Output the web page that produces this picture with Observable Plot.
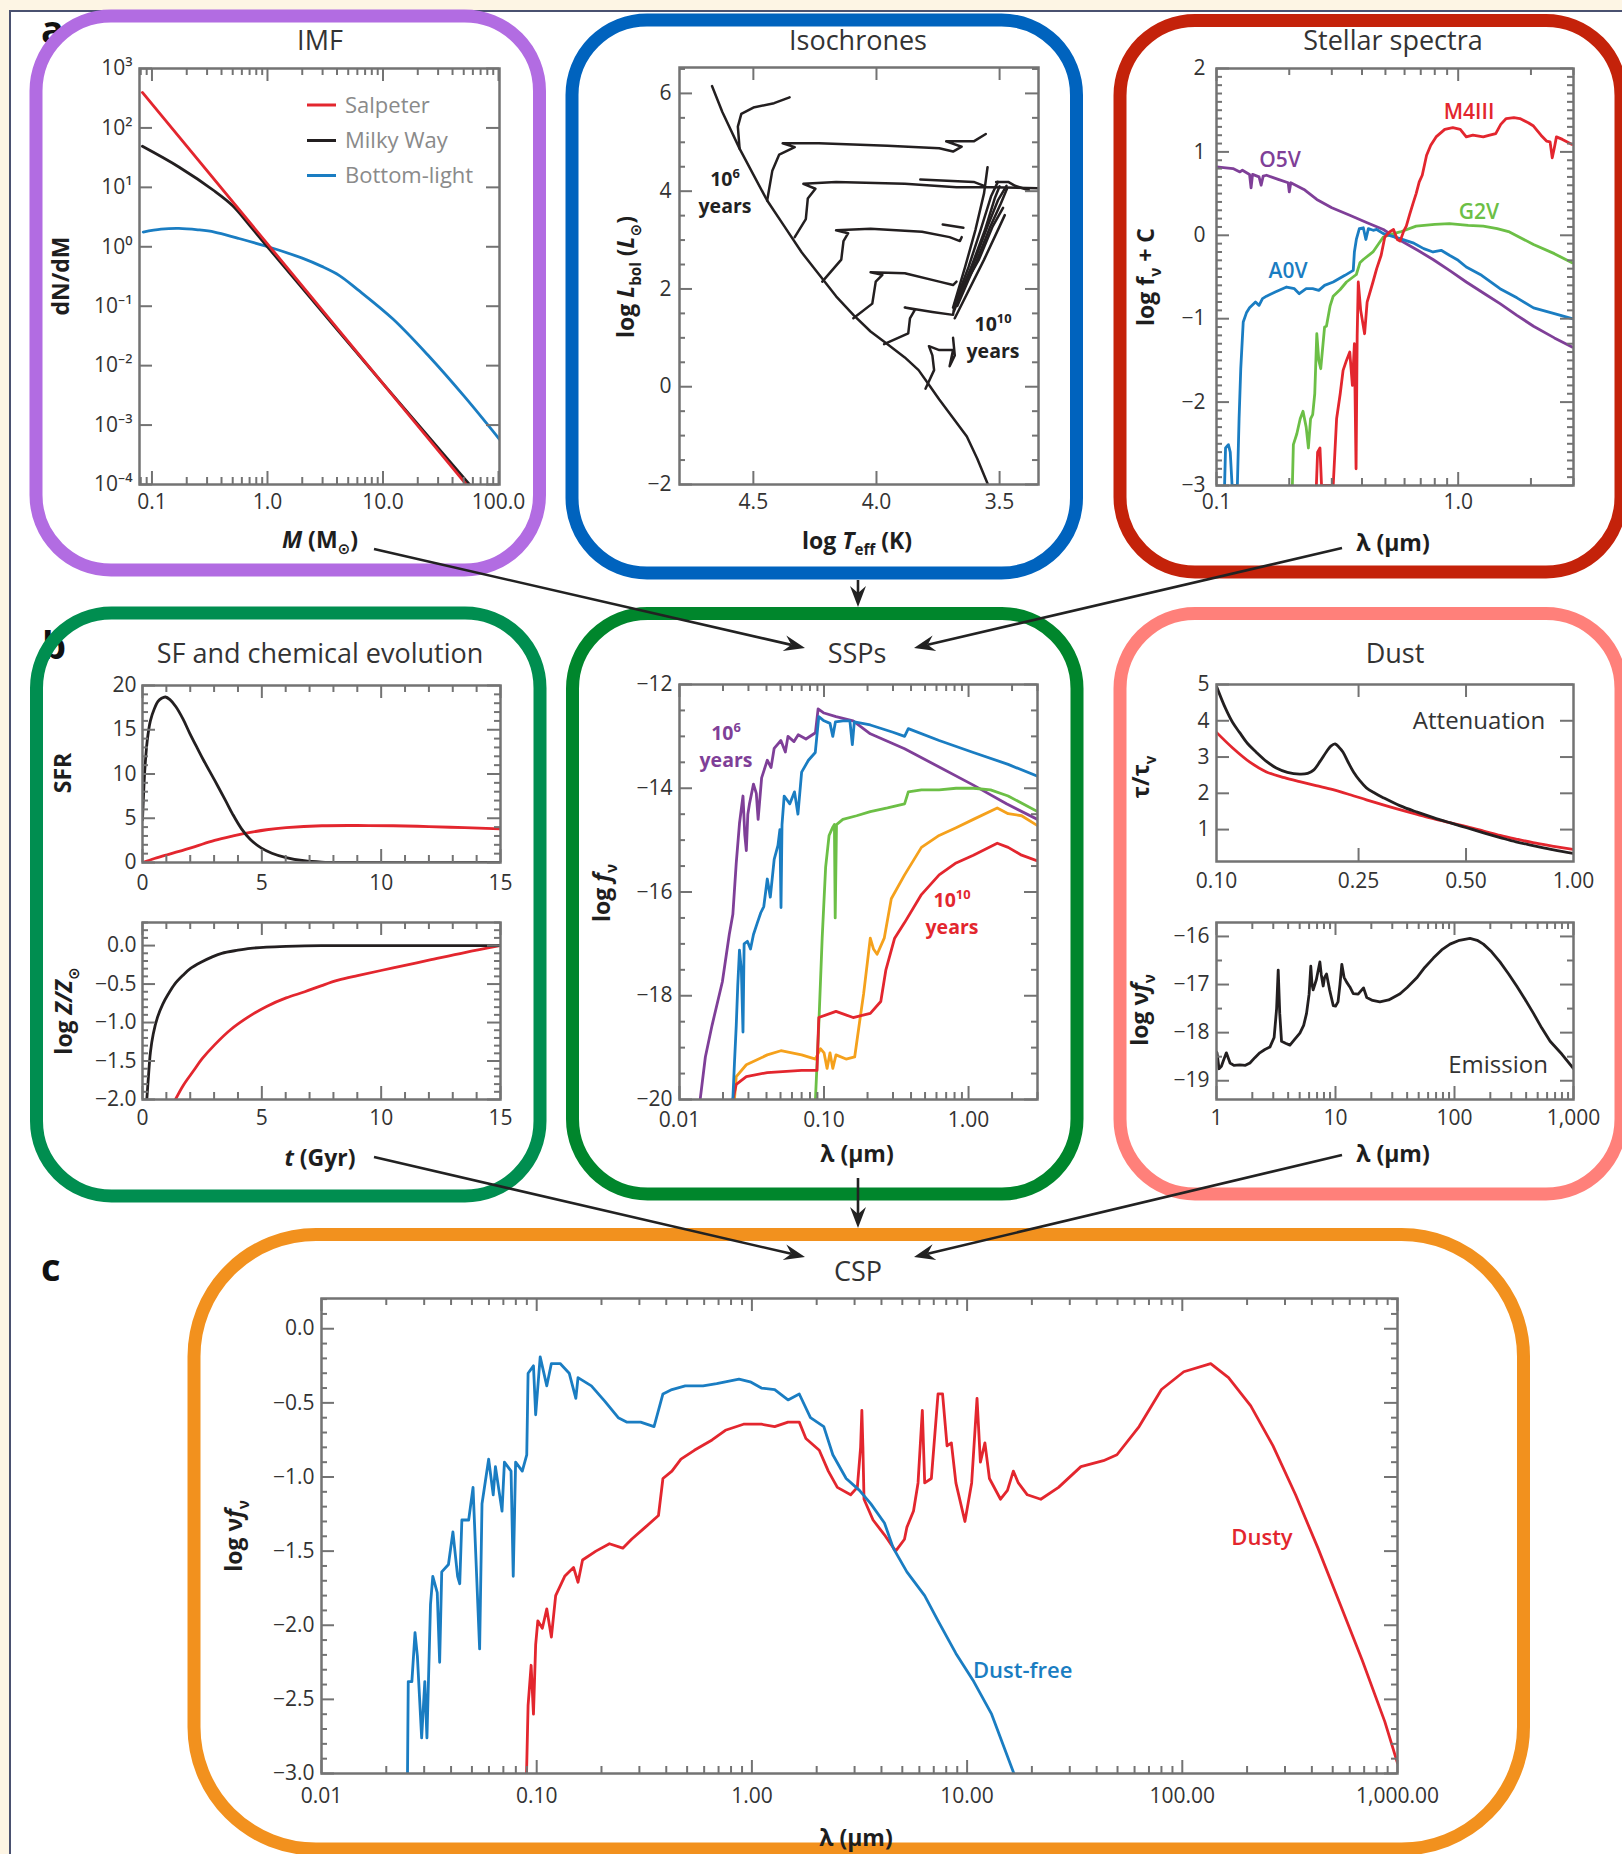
<!DOCTYPE html>
<html><head><meta charset="utf-8">
<script src="https://cdn.jsdelivr.net/npm/d3@7"></script>
<script src="https://cdn.jsdelivr.net/npm/@observablehq/plot@0.6"></script>
<style>
html,body{margin:0;padding:0;background:#fdf5e4;}
#root{position:relative;width:1622px;height:1854px;overflow:hidden;background:#fdf5e4;}
#paper{position:absolute;left:9px;top:10px;width:1613px;height:1844px;background:#fff;border-left:2px solid #4a5170;border-top:2px solid #4a5170;}
</style></head><body><div id="root"><div id="paper"></div></div>
<script>
// ---------------- DATA ----------------
// IMF: [M (Msun), dN/dM]
const imfSalpeter = [[0.0826, 395], [52.6, 1e-4]];
const imfMilkyWay = [[0.0826, 49], [0.171, 22], [0.35, 8.6], [0.5, 4.9], [0.7, 2.3], [1, 1], [10, 5.0e-3], [56, 1e-4]];
const imfBottomLight = [[0.084,1.77],[0.12,1.98],[0.171,2.04],[0.25,1.93],[0.348,1.77],[0.55,1.4],[1.01,1.0],[2.0,0.645],[2.95,0.468],[4.2,0.328],[6.0,0.192],[12.2,0.0608],[24.9,0.0145],[50.8,0.003],[102,5.75e-4]];
const imfXTicks = [0.1, 1, 10, 100];
const imfXLabels = ["0.1", "1.0", "10.0", "100.0"];
const imfYTicks = [1e3, 1e2, 1e1, 1e0, 1e-1, 1e-2, 1e-3, 1e-4];
const imfYLabels = ["10³", "10²", "10¹", "10⁰", "10⁻¹", "10⁻²", "10⁻³", "10⁻⁴"];
const imfLegend = ["Salpeter", "Milky Way", "Bottom-light"];

// Isochrones: [log Teff, log Lbol]
const isoMS = [[4.668,6.15],[4.626,5.62],[4.556,4.87],[4.5,4.34],[4.444,3.81],[4.374,3.28],[4.304,2.75],[4.234,2.30],[4.164,1.85],[4.094,1.47],[4.024,1.13],[3.955,0.87],[3.885,0.60],[3.829,0.34],[3.787,0.04],[3.745,-0.26],[3.689,-0.64],[3.633,-1.02],[3.591,-1.47],[3.549,-1.98]];
const iso1 = [[4.556,4.87],[4.563,5.32],[4.549,5.58],[4.5,5.71],[4.416,5.80],[4.353,5.92]];
const iso2 = [[4.444,3.81],[4.423,4.42],[4.395,4.75],[4.332,4.90],[4.381,4.98],[4.234,4.98],[3.955,4.93],[3.745,4.88],[3.689,4.81],[3.654,4.91],[3.717,5.02],[3.605,5.02],[3.556,5.17]];
const iso3 = [[4.332,3.06],[4.287,3.43],[4.279,3.85],[4.248,4.05],[4.297,4.15],[4.164,4.19],[3.885,4.15],[3.675,4.08],[3.535,4.08],[3.345,4.06]];
const iso3b = [[3.822,4.24],[3.605,4.19],[3.563,4.11]];
const iso4 = [[4.220,2.15],[4.143,2.60],[4.134,2.98],[4.115,3.14],[4.164,3.20],[4.024,3.23],[3.815,3.17],[3.703,3.06],[3.661,2.98],[3.654,3.06]];
const iso4b = [[3.731,3.32],[3.647,3.25]];
const iso5 = [[4.094,1.40],[4.017,1.70],[4.003,2.15],[3.976,2.29],[4.024,2.34],[3.885,2.32],[3.745,2.15],[3.689,2.08],[3.675,2.15]];
const iso6 = [[3.969,0.87],[3.871,1.09],[3.864,1.40],[3.843,1.58],[3.885,1.62],[3.773,1.53],[3.689,1.47],[3.682,1.70]];
const iso7 = [[3.801,-0.04],[3.766,0.34],[3.773,0.64],[3.787,0.83],[3.745,0.75],[3.689,0.75],[3.703,0.42],[3.682,0.64],[3.689,1.0]];
const rgb1 = [[3.689,1.62],[3.640,2.45],[3.598,3.21],[3.563,3.96],[3.549,4.49]];
const rgb2 = [[3.682,1.70],[3.626,2.45],[3.577,3.21],[3.535,3.89],[3.507,4.19]];
const rgb3 = [[3.675,1.77],[3.605,2.53],[3.549,3.28],[3.507,3.81],[3.472,4.11]];
const rgb4 = [[3.668,1.85],[3.584,2.60],[3.528,3.28],[3.486,3.66]];
const rgb5 = [[3.682,1.40],[3.563,2.60],[3.500,3.28],[3.479,3.51]];
const rgb6 = [[3.685,1.55],[3.615,2.45],[3.560,3.20],[3.520,3.85],[3.500,4.10]];
const rgb7 = [[3.672,1.65],[3.595,2.55],[3.540,3.25],[3.495,3.75],[3.470,4.05]];
const rgbTop = [[3.514,4.19],[3.465,4.19],[3.437,4.11],[3.381,4.02]];
const isoXTicks = [4.5, 4.0, 3.5];
const isoXLabels = ["4.5", "4.0", "3.5"];
const isoYTicks = [-2, 0, 2, 4, 6];
const isoYLabels = ["−2", "0", "2", "4", "6"];

// Stellar spectra: [lambda (um), log f_nu + C]
const specO5V = [[0.1,0.82],[0.117,0.80],[0.125,0.76],[0.128,0.78],[0.137,0.73],[0.139,0.57],[0.141,0.73],[0.150,0.70],[0.153,0.60],[0.156,0.71],[0.161,0.72],[0.180,0.67],[0.198,0.63],[0.200,0.52],[0.203,0.63],[0.230,0.55],[0.260,0.43],[0.300,0.33],[0.356,0.24],[0.420,0.15],[0.490,0.07],[0.575,-0.06],[0.680,-0.18],[0.787,-0.29],[0.93,-0.43],[1.08,-0.56],[1.30,-0.71],[1.49,-0.82],[1.75,-0.96],[2.05,-1.09],[2.50,-1.23],[2.96,-1.34]];
const specA0V = [[0.108,-3.0],[0.109,-2.55],[0.112,-2.51],[0.114,-2.6],[0.116,-3.0],[0.122,-3.0],[0.124,-2.2],[0.126,-1.6],[0.129,-1.04],[0.133,-0.93],[0.137,-0.87],[0.145,-0.80],[0.150,-0.84],[0.155,-0.76],[0.161,-0.73],[0.175,-0.68],[0.195,-0.62],[0.210,-0.64],[0.220,-0.70],[0.235,-0.64],[0.250,-0.64],[0.265,-0.66],[0.280,-0.60],[0.304,-0.56],[0.340,-0.48],[0.368,-0.42],[0.372,-0.2],[0.379,-0.05],[0.390,0.08],[0.405,0.09],[0.415,-0.05],[0.425,0.08],[0.445,0.06],[0.46,0.07],[0.49,0.02],[0.575,-0.04],[0.65,-0.09],[0.72,-0.16],[0.787,-0.2],[0.85,-0.18],[0.92,-0.24],[1.0,-0.30],[1.08,-0.38],[1.25,-0.48],[1.49,-0.64],[1.75,-0.75],[2.05,-0.87],[2.5,-0.94],[2.96,-1.0]];
const specG2V = [[0.206,-3.0],[0.208,-2.51],[0.215,-2.38],[0.222,-2.2],[0.228,-2.11],[0.235,-2.3],[0.24,-2.55],[0.245,-2.2],[0.25,-2.15],[0.255,-1.9],[0.26,-1.18],[0.265,-1.5],[0.27,-1.6],[0.28,-1.1],[0.285,-1.09],[0.295,-0.85],[0.304,-0.73],[0.325,-0.65],[0.345,-0.56],[0.379,-0.47],[0.392,-0.33],[0.405,-0.29],[0.444,-0.2],[0.49,-0.02],[0.54,0.02],[0.575,0.04],[0.67,0.11],[0.8,0.13],[0.92,0.14],[1.1,0.12],[1.27,0.11],[1.45,0.08],[1.63,0.04],[2.05,-0.11],[2.5,-0.22],[2.96,-0.33]];
const specM4III = [[0.259,-3.0],[0.262,-2.6],[0.268,-2.55],[0.272,-3.0],[0.304,-3.0],[0.314,-2.2],[0.325,-1.9],[0.334,-1.62],[0.345,-1.5],[0.356,-1.4],[0.365,-1.8],[0.372,-1.3],[0.378,-2.8],[0.382,-1.2],[0.386,-0.56],[0.395,-0.9],[0.41,-1.18],[0.42,-0.8],[0.444,-0.56],[0.46,-0.4],[0.48,-0.24],[0.497,-0.02],[0.52,0.04],[0.54,0.07],[0.56,-0.05],[0.575,-0.07],[0.595,0.05],[0.61,0.11],[0.63,0.25],[0.65,0.38],[0.67,0.5],[0.69,0.64],[0.71,0.72],[0.74,0.96],[0.77,1.08],[0.81,1.18],[0.88,1.27],[0.95,1.29],[1.02,1.27],[1.08,1.18],[1.15,1.2],[1.27,1.18],[1.35,1.2],[1.43,1.22],[1.5,1.33],[1.58,1.4],[1.7,1.41],[1.8,1.4],[1.95,1.35],[2.05,1.31],[2.2,1.2],[2.32,1.13],[2.4,1.12],[2.45,0.93],[2.5,1.05],[2.55,1.18],[2.7,1.15],[2.96,1.09]];
const specXTicks = [0.1, 1];
const specXLabels = ["0.1", "1.0"];
const specYTicks = [-3, -2, -1, 0, 1, 2];
const specYLabels = ["−3", "−2", "−1", "0", "1", "2"];
const specNames = ["O5V", "A0V", "G2V", "M4III"];

// SF history: [t (Gyr), SFR] and chemical evolution [t, log Z/Zsun]
const sfrBurst = [[0,4.8],[0.05,8],[0.1,10.6],[0.2,13.8],[0.33,16],[0.5,17.4],[0.65,18.2],[0.8,18.55],[0.96,18.7],[1.15,18.4],[1.4,17.6],[1.7,16.2],[1.98,14.6],[2.3,12.9],[2.57,11.5],[3.02,9.3],[3.47,7.05],[3.77,5.5],[4.15,3.8],[4.52,2.6],[4.97,1.65],[5.42,1.05],[6.02,0.55],[6.77,0.2],[7.51,0.05],[8.5,0],[15,0]];
const sfrSmooth = [[0,0],[0.5,0.45],[1.0,0.85],[1.53,1.25],[2.2,1.8],[3.02,2.5],[3.8,3.0],[4.52,3.4],[5.2,3.7],[6.02,3.93],[7.52,4.15],[9.01,4.18],[10.5,4.15],[12.0,4.06],[13.5,3.93],[15,3.8]];
const zBurst = [[0.18,-2.0],[0.25,-1.7],[0.33,-1.39],[0.45,-1.15],[0.63,-0.93],[0.85,-0.76],[1.08,-0.63],[1.35,-0.5],[1.68,-0.39],[2.0,-0.3],[2.43,-0.22],[2.9,-0.15],[3.32,-0.1],[4.0,-0.06],[4.52,-0.036],[5.2,-0.02],[6.02,-0.01],[7.5,0],[9,0],[15,0]];
const zSmooth = [[1.38,-2.0],[1.7,-1.82],[2.13,-1.63],[2.5,-1.47],[3.02,-1.29],[3.7,-1.09],[4.52,-0.91],[5.2,-0.79],[6.02,-0.68],[6.8,-0.6],[7.51,-0.52],[8.2,-0.45],[9.01,-0.39],[10.5,-0.29],[12.0,-0.19],[13.5,-0.09],[15,0]];
const tTicks = [0, 5, 10, 15];
const tLabels = ["0", "5", "10", "15"];
const sfrYTicks = [0, 5, 10, 15, 20];
const sfrYLabels = ["0", "5", "10", "15", "20"];
const zYTicks = [-2, -1.5, -1, -0.5, 0];
const zYLabels = ["−2.0", "−1.5", "−1.0", "−0.5", "0.0"];

// SSPs: [lambda (um), log f_nu]
const ssp1e6 = [[0.0139,-20],[0.0151,-19.18],[0.0168,-18.57],[0.0198,-17.73],[0.0221,-16.82],[0.0234,-16.43],[0.0247,-15.44],[0.026,-14.68],[0.0275,-14.15],[0.0283,-14.9],[0.029,-15.2],[0.0297,-14.5],[0.0305,-14.3],[0.0325,-13.92],[0.034,-14.1],[0.035,-14.6],[0.037,-13.8],[0.0405,-13.46],[0.043,-13.6],[0.0452,-13.23],[0.0503,-13.08],[0.054,-13.3],[0.0563,-13.0],[0.062,-13.1],[0.0663,-12.97],[0.075,-13.05],[0.0872,-12.93],[0.091,-12.47],[0.1,-12.55],[0.121,-12.62],[0.159,-12.7],[0.209,-12.95],[0.361,-13.24],[0.626,-13.59],[1.08,-13.94],[1.83,-14.3],[3.0,-14.6]];
const sspBlue = [[0.0234,-20],[0.0240,-19.3],[0.0247,-18.57],[0.0253,-17.8],[0.026,-17.12],[0.0268,-17.5],[0.0275,-18.7],[0.028,-17.0],[0.0295,-16.95],[0.031,-17.1],[0.0325,-16.82],[0.0345,-16.6],[0.0365,-16.4],[0.0383,-16.28],[0.0405,-15.75],[0.0425,-16.1],[0.0452,-15.37],[0.048,-15.1],[0.0495,-14.8],[0.0504,-16.3],[0.0512,-14.7],[0.053,-14.15],[0.058,-14.3],[0.0625,-14.07],[0.066,-14.5],[0.07,-13.69],[0.078,-13.46],[0.087,-13.31],[0.092,-12.62],[0.1,-12.7],[0.11,-12.75],[0.115,-13.0],[0.12,-12.72],[0.135,-12.7],[0.151,-12.7],[0.157,-13.16],[0.162,-12.72],[0.209,-12.78],[0.3,-12.92],[0.361,-13.0],[0.383,-12.85],[0.626,-13.08],[1.08,-13.31],[1.88,-13.54],[3.0,-13.77]];
const sspGreen = [[0.0872,-20],[0.092,-18.57],[0.0971,-16.89],[0.1026,-15.52],[0.1084,-14.91],[0.115,-14.75],[0.118,-14.7],[0.1195,-16.5],[0.122,-14.7],[0.135,-14.6],[0.168,-14.53],[0.209,-14.45],[0.275,-14.38],[0.361,-14.3],[0.383,-14.07],[0.472,-14.03],[0.626,-14.03],[0.82,-14.0],[1.08,-14.0],[1.42,-14.03],[1.88,-14.15],[3.0,-14.45]];
const sspOrange = [[0.024,-20],[0.0247,-19.56],[0.029,-19.33],[0.0405,-19.14],[0.0503,-19.06],[0.07,-19.14],[0.0872,-19.22],[0.0945,-19.02],[0.1,-19.1],[0.105,-19.4],[0.11,-19.1],[0.115,-19.4],[0.121,-19.14],[0.142,-19.22],[0.163,-19.18],[0.178,-18.42],[0.188,-17.96],[0.209,-16.89],[0.22,-17.1],[0.233,-17.2],[0.261,-16.89],[0.292,-16.13],[0.361,-15.67],[0.472,-15.14],[0.626,-14.91],[0.82,-14.76],[1.08,-14.6],[1.58,-14.38],[1.88,-14.49],[2.33,-14.53],[3.0,-14.72]];
const ssp1e10 = [[0.0234,-20],[0.0247,-19.71],[0.029,-19.56],[0.0405,-19.48],[0.07,-19.44],[0.0894,-19.44],[0.092,-18.42],[0.121,-18.3],[0.159,-18.42],[0.209,-18.34],[0.247,-18.11],[0.268,-17.5],[0.308,-16.89],[0.361,-16.59],[0.472,-16.05],[0.626,-15.67],[0.82,-15.44],[1.08,-15.29],[1.58,-15.06],[1.88,-15.14],[2.33,-15.29],[3.0,-15.4]];
const sspXTicks = [0.01, 0.1, 1];
const sspXLabels = ["0.01", "0.10", "1.00"];
const sspYTicks = [-20, -18, -16, -14, -12];
const sspYLabels = ["−20", "−18", "−16", "−14", "−12"];

// Dust attenuation [lambda, tau/tau_V] and emission [lambda, log nu f_nu]
const attenBump = [[0.1,4.95],[0.106,4.34],[0.111,3.95],[0.116,3.68],[0.122,3.38],[0.129,3.14],[0.138,2.88],[0.147,2.7],[0.158,2.58],[0.171,2.53],[0.18,2.55],[0.187,2.64],[0.195,2.88],[0.203,3.14],[0.209,3.3],[0.215,3.36],[0.22,3.28],[0.226,3.14],[0.234,2.85],[0.242,2.59],[0.252,2.35],[0.263,2.15],[0.278,2.0],[0.293,1.88],[0.326,1.66],[0.365,1.48],[0.405,1.33],[0.45,1.19],[0.502,1.05],[0.56,0.91],[0.623,0.78],[0.69,0.66],[0.77,0.56],[0.88,0.44],[1.0,0.34]];
const attenPlain = [[0.1,3.68],[0.111,3.25],[0.124,2.86],[0.138,2.59],[0.155,2.43],[0.171,2.32],[0.19,2.21],[0.212,2.1],[0.237,1.96],[0.263,1.82],[0.293,1.68],[0.326,1.55],[0.365,1.42],[0.405,1.3],[0.45,1.19],[0.502,1.08],[0.56,0.96],[0.623,0.84],[0.69,0.74],[0.77,0.64],[0.88,0.54],[1.0,0.45]];
const dustEmission = [[1.0,-18.4],[1.01,-18.42],[1.05,-18.75],[1.1,-18.7],[1.14,-18.59],[1.21,-18.42],[1.3,-18.63],[1.4,-18.68],[1.57,-18.67],[1.75,-18.68],[1.91,-18.63],[2.1,-18.52],[2.31,-18.42],[2.55,-18.35],[2.81,-18.3],[3.05,-18.1],[3.2,-17.5],[3.3,-16.7],[3.4,-17.6],[3.52,-18.18],[3.8,-18.22],[4.14,-18.26],[4.5,-18.15],[5.02,-18.01],[5.4,-17.85],[5.71,-17.6],[6.0,-17.2],[6.2,-16.62],[6.35,-17.0],[6.49,-17.11],[6.9,-16.9],[7.39,-16.53],[7.6,-16.8],[7.88,-17.03],[8.1,-16.85],[8.41,-16.78],[8.9,-17.1],[9.58,-17.44],[10.0,-17.45],[10.5,-17.36],[10.9,-17.0],[11.3,-16.58],[11.8,-16.85],[12.4,-16.95],[13.2,-17.05],[14.1,-17.19],[15.5,-17.2],[17.2,-17.07],[18.3,-17.27],[20.5,-17.33],[23.6,-17.36],[28,-17.32],[34.9,-17.19],[40,-17.06],[48.2,-16.86],[56,-16.65],[66.4,-16.45],[78,-16.28],[91.7,-16.16],[110,-16.08],[135,-16.04],[155,-16.08],[175,-16.16],[205,-16.32],[241,-16.53],[285,-16.78],[333,-17.03],[390,-17.3],[461,-17.6],[540,-17.9],[636,-18.18],[800,-18.45],[1000,-18.75]];
const attXMajor = [0.25, 0.5];
const attXTicks = [0.1, 0.25, 0.5, 1];
const attXLabels = ["0.10", "0.25", "0.50", "1.00"];
const attYTicks = [1, 2, 3, 4, 5];
const attYLabels = ["1", "2", "3", "4", "5"];
const emiXTicks = [1, 10, 100, 1000];
const emiXLabels = ["1", "10", "100", "1,000"];
const emiYTicks = [-19, -18, -17, -16];
const emiYLabels = ["−19", "−18", "−17", "−16"];

// CSP: [lambda (um), log nu f_nu]
const cspDustFree = [[0.0251,-3.0],[0.0253,-2.38],[0.0263,-2.38],[0.0272,-2.05],[0.0279,-2.21],[0.0292,-2.76],[0.0302,-2.38],[0.0309,-2.76],[0.0321,-1.86],[0.0329,-1.67],[0.0345,-1.78],[0.0354,-2.25],[0.0362,-1.64],[0.0389,-1.59],[0.0408,-1.37],[0.0429,-1.67],[0.0439,-1.72],[0.0449,-1.29],[0.0483,-1.29],[0.0506,-1.07],[0.0543,-2.16],[0.0557,-1.18],[0.0598,-0.88],[0.0628,-1.12],[0.0643,-0.93],[0.069,-1.23],[0.0708,-0.90],[0.076,-0.96],[0.0778,-1.67],[0.0798,-0.90],[0.0857,-0.96],[0.0899,-0.85],[0.0912,-0.30],[0.0966,-0.25],[0.0989,-0.58],[0.1038,-0.19],[0.1114,-0.385],[0.117,-0.235],[0.1285,-0.235],[0.1416,-0.30],[0.152,-0.47],[0.1556,-0.33],[0.1795,-0.385],[0.2075,-0.49],[0.2393,-0.60],[0.263,-0.63],[0.304,-0.63],[0.351,-0.66],[0.386,-0.44],[0.425,-0.41],[0.49,-0.385],[0.593,-0.385],[0.686,-0.37],[0.871,-0.34],[0.982,-0.358],[1.107,-0.40],[1.276,-0.41],[1.472,-0.48],[1.66,-0.44],[1.871,-0.60],[2.158,-0.66],[2.377,-0.85],[2.742,-1.01],[3.162,-1.09],[3.565,-1.18],[4.13,-1.31],[4.54,-1.48],[5.25,-1.64],[6.35,-1.80],[7.33,-1.97],[8.87,-2.19],[10.74,-2.38],[13.0,-2.60],[16.5,-3.0]];
const cspDusty = [[0.0897,-3.0],[0.0912,-2.54],[0.0942,-2.27],[0.0966,-2.60],[0.0989,-2.13],[0.1012,-1.97],[0.1062,-2.02],[0.1114,-1.89],[0.117,-2.08],[0.1225,-1.80],[0.1349,-1.67],[0.1483,-1.61],[0.1556,-1.71],[0.1633,-1.56],[0.1884,-1.50],[0.2178,-1.45],[0.2512,-1.48],[0.276,-1.42],[0.319,-1.34],[0.368,-1.26],[0.386,-1.01],[0.425,-0.96],[0.468,-0.88],[0.54,-0.82],[0.653,-0.75],[0.753,-0.685],[0.914,-0.644],[1.107,-0.644],[1.276,-0.66],[1.472,-0.63],[1.66,-0.63],[1.782,-0.74],[2.056,-0.82],[2.265,-0.96],[2.495,-1.07],[2.877,-1.12],[3.09,-1.07],[3.2,-0.8],[3.243,-0.55],[3.28,-0.8],[3.319,-1.15],[3.656,-1.29],[4.13,-1.39],[4.656,-1.50],[5.117,-1.42],[5.248,-1.34],[5.636,-1.23],[5.916,-1.04],[6.194,-0.55],[6.353,-1.04],[6.823,-1.01],[7.328,-0.44],[7.69,-0.44],[8.07,-0.79],[8.45,-0.77],[8.87,-1.04],[9.77,-1.30],[10.5,-1.04],[11.12,-0.47],[11.53,-0.90],[12.1,-0.77],[12.7,-1.01],[14.3,-1.15],[15.4,-1.09],[16.4,-0.96],[17.3,-1.04],[19.05,-1.12],[22.0,-1.15],[26.6,-1.07],[33.8,-0.93],[43.0,-0.89],[49.7,-0.85],[63,-0.66],[80,-0.41],[101.6,-0.29],[135.5,-0.235],[164,-0.33],[208,-0.52],[264,-0.79],[336,-1.12],[427,-1.48],[542,-1.86],[687,-2.24],[873,-2.65],[1000,-2.93]];
const cspXTicks = [0.01, 0.1, 1, 10, 100, 1000];
const cspXLabels = ["0.01", "0.10", "1.00", "10.00", "100.00", "1,000.00"];
const cspYTicks = [-3, -2.5, -2, -1.5, -1, -0.5, 0];
const cspYLabels = ["−3.0", "−2.5", "−2.0", "−1.5", "−1.0", "−0.5", "0.0"];

// ---------------- STYLE / LAYOUT ----------------
const FONT = "'Open Sans', 'Noto Sans', 'DejaVu Sans', sans-serif";
const AXC = "#737373";
const TXT = "#333333";
const C = {red:"#e3262e", black:"#231f20", blue:"#1a7dc2", purple:"#7f3f98", green:"#6cbf46", orange:"#f5a11c"};
const root = document.getElementById("root");

const logMinor = (dom, major) => d3.scaleLog().domain(dom).ticks().filter(v => !major.some(m => Math.abs(m - v) / m < 1e-6));
const steps = (a, b, s, major = []) => { const o = []; for (let i = 0; a + i * s <= b + 1e-9; i++) { const v = +(a + i * s).toFixed(6); if (!major.some(m => Math.abs(m - v) < 1e-6)) o.push(v); } return o; };
const fmt = (vals, labs) => d => labs[vals.findIndex(v => Math.abs(v - d) <= Math.abs(v) * 1e-9 + 1e-12)];

function panel({frame: [L, T, R, B], x, y, marks, xt, yt, ml = 75, mr = 60, mt = 12, mb = 45}) {
  const W = R - L, H = B - T, sw = 2;
  const tk = [];
  const addX = (vals, len) => { if (vals && vals.length) tk.push(
    Plot.tickX(vals, {x: d => d, insetTop: H - len, stroke: AXC, strokeWidth: sw}),
    Plot.tickX(vals, {x: d => d, insetBottom: H - len, stroke: AXC, strokeWidth: sw})); };
  const addY = (vals, len) => { if (vals && vals.length) tk.push(
    Plot.tickY(vals, {y: d => d, insetRight: W - len, stroke: AXC, strokeWidth: sw}),
    Plot.tickY(vals, {y: d => d, insetLeft: W - len, stroke: AXC, strokeWidth: sw})); };
  addX(xt.major, 13); addX(xt.minor, 7); addY(yt.major, 13); addY(yt.minor, 6);
  const chart = Plot.plot({
    width: W + ml + mr, height: H + mt + mb,
    marginLeft: ml, marginRight: mr, marginTop: mt, marginBottom: mb,
    x, y,
    style: {background: "none", fontFamily: FONT, fontSize: "21px", color: TXT, overflow: "visible", maxWidth: "none"},
    marks: [
      ...marks,
      ...tk,
      Plot.frame({stroke: AXC, strokeWidth: 2.5}),
      Plot.axisX({anchor: "bottom", ticks: xt.labels, tickFormat: fmt(xt.labels, xt.text), tickSize: 0, tickPadding: xt.pad, label: null}),
      Plot.axisY({anchor: "left", ticks: yt.labels, tickFormat: fmt(yt.labels, yt.text), tickSize: 0, tickPadding: yt.pad, label: null})
    ]
  });
  chart.style.position = "absolute";
  chart.style.left = (L - ml) + "px";
  chart.style.top = (T - mt) + "px";
  root.appendChild(chart);
}
const ln = (data, stroke, w = 2.8, curve = "linear") => Plot.line(data, {stroke, strokeWidth: w, strokeLinejoin: "round", curve, clip: true});
const sm = (data, stroke, w = 2.8) => ln(data, stroke, w, "catmull-rom");

// IMF
panel({frame: [139, 68, 499, 484],
  x: {type: "log", domain: [0.078, 102]}, y: {type: "log", domain: [1e-4, 1e3]},
  marks: [sm(imfBottomLight, C.blue), sm(imfMilkyWay, C.black), ln(imfSalpeter, C.red)],
  xt: {major: imfXTicks, minor: logMinor([0.078, 102], imfXTicks), labels: imfXTicks, text: imfXLabels, pad: 10},
  yt: {major: imfYTicks, labels: imfYTicks, text: imfYLabels, pad: 7}});

// Isochrones
panel({frame: [679, 67, 1038, 484],
  x: {domain: [4.80, 3.342]}, y: {domain: [-2, 6.53]},
  marks: [isoMS, iso1, iso2, iso3, iso3b, iso4, iso4b, iso5, iso6, iso7, rgb1, rgb2, rgb3, rgb4, rgb5, rgb6, rgb7, rgbTop].map(d => ln(d, C.black, 2.5)),
  xt: {major: isoXTicks, labels: isoXTicks, text: isoXLabels, pad: 10},
  yt: {major: isoYTicks, minor: steps(-2, 6.5, 0.5, isoYTicks), labels: isoYTicks, text: isoYLabels, pad: 8}});

// Stellar spectra
panel({frame: [1216, 68, 1573, 485],
  x: {type: "log", domain: [0.1, 3.0]}, y: {domain: [-3, 2]},
  marks: [ln(specO5V, C.purple), ln(specG2V, C.green), ln(specA0V, C.blue), ln(specM4III, C.red)],
  xt: {major: specXTicks, minor: logMinor([0.1, 3.0], specXTicks), labels: specXTicks, text: specXLabels, pad: 9},
  yt: {major: specYTicks, minor: steps(-3, 2, 0.1, specYTicks), labels: specYTicks, text: specYLabels, pad: 11}});

// SFR
panel({frame: [142, 685, 500, 862],
  x: {domain: [0, 15]}, y: {domain: [0, 20]},
  marks: [sm(sfrSmooth, C.red), sm(sfrBurst, C.black)],
  xt: {major: tTicks, minor: steps(0, 15, 1, tTicks), labels: tTicks, text: tLabels, pad: 13},
  yt: {major: sfrYTicks, minor: steps(0, 20, 1, sfrYTicks), labels: sfrYTicks, text: sfrYLabels, pad: 6}});

// Metallicity
panel({frame: [142, 922, 500, 1099],
  x: {domain: [0, 15]}, y: {domain: [-2, 0.3]},
  marks: [sm(zSmooth, C.red), sm(zBurst, C.black)],
  xt: {major: tTicks, minor: steps(0, 15, 1, tTicks), labels: tTicks, text: tLabels, pad: 11},
  yt: {major: zYTicks, minor: steps(-2, 0.3, 0.1, zYTicks), labels: zYTicks, text: zYLabels, pad: 6}});

// SSPs
panel({frame: [679, 684, 1037, 1099],
  x: {type: "log", domain: [0.01, 3.0]}, y: {domain: [-20, -12]},
  marks: [ln(ssp1e6, C.purple), ln(sspGreen, C.green), ln(sspOrange, C.orange), ln(ssp1e10, C.red), ln(sspBlue, C.blue)],
  xt: {major: sspXTicks, minor: logMinor([0.01, 3.0], sspXTicks), labels: sspXTicks, text: sspXLabels, pad: 13},
  yt: {major: sspYTicks, minor: steps(-20, -12, 0.5, sspYTicks), labels: sspYTicks, text: sspYLabels, pad: 7}});

// Dust attenuation
panel({frame: [1216, 684, 1573, 861],
  x: {type: "log", domain: [0.1, 1.0]}, y: {domain: [0.12, 5]},
  marks: [sm(attenPlain, C.red), sm(attenBump, C.black)],
  xt: {major: attXMajor, labels: attXTicks, text: attXLabels, pad: 12},
  yt: {major: attYTicks, labels: attYTicks, text: attYLabels, pad: 7}});

// Dust emission
panel({frame: [1216, 922, 1573, 1099],
  x: {type: "log", domain: [1, 1000]}, y: {domain: [-19.39, -15.71]},
  marks: [ln(dustEmission, C.black)],
  xt: {major: emiXTicks, minor: logMinor([1, 1000], emiXTicks), labels: emiXTicks, text: emiXLabels, pad: 11},
  yt: {major: emiYTicks, minor: steps(-19, -16, 0.5, emiYTicks), labels: emiYTicks, text: emiYLabels, pad: 7}});

// CSP
panel({frame: [321, 1298, 1397, 1773],
  x: {type: "log", domain: [0.01, 1000]}, y: {domain: [-3, 0.204]},
  marks: [ln(cspDusty, C.red), ln(cspDustFree, C.blue)],
  xt: {major: cspXTicks, minor: logMinor([0.01, 1000], cspXTicks), labels: cspXTicks, text: cspXLabels, pad: 15},
  yt: {major: cspYTicks, minor: steps(-3, 0.2, 0.1, cspYTicks), labels: cspYTicks, text: cspYLabels, pad: 7}});

// ---------------- OVERLAY: boxes, arrows, titles, labels ----------------
const svg = d3.select(root).append("svg").attr("width", 1622).attr("height", 1854)
  .style("position", "absolute").style("left", 0).style("top", 0).style("pointer-events", "none")
  .attr("font-family", FONT);

function rich(sel, parts, size) {
  let shift = 0;
  for (const p of parts) {
    const [s, o] = typeof p === "string" ? [p, {}] : p;
    const want = o.sub ? 0.28 * size : o.sup ? -0.42 * size : 0;
    const ts = sel.append("tspan").text(s).attr("dy", want - shift);
    shift = want;
    if (o.sub || o.sup) ts.attr("font-size", size * 0.66);
    if (o.italic) ts.attr("font-style", "italic");
    if (o.family) ts.attr("font-family", o.family);
  }
}
function label(x, y, parts, {size = 23, weight = 700, fill = "#1e1e1e", anchor = "middle", rot = false} = {}) {
  const t = svg.append("text").attr("font-size", size).attr("font-weight", weight).attr("fill", fill).attr("text-anchor", anchor);
  if (rot) t.attr("transform", `translate(${x},${y}) rotate(-90)`).attr("y", size * 0.36);
  else t.attr("x", x).attr("y", y);
  rich(t, typeof parts === "string" ? [parts] : parts, size);
  return t;
}

// panel letters (partly hidden by boxes)
label(41, 43, "a", {size: 38, anchor: "start", fill: "#111"});
label(42, 659, "b", {size: 38, anchor: "start", fill: "#111"});
label(41, 1281, "c", {size: 38, anchor: "start", fill: "#111"});

const boxes = [
  [36, 16, 539.5, 570, 75, "#b26ce2"], [572, 20, 1076.5, 573, 75, "#0063be"], [1120, 20.5, 1621, 572, 75, "#c4220a"],
  [36.5, 613, 540, 1196, 75, "#008e50"], [572.5, 613.5, 1077, 1194, 75, "#00862c"], [1120, 613.5, 1621, 1194, 75, "#ff807a"],
  [194, 1234.5, 1523.5, 1849, 122, "#f2911e"]];
for (const [x0, y0, x1, y1, r, c] of boxes)
  svg.append("rect").attr("x", x0).attr("y", y0).attr("width", x1 - x0).attr("height", y1 - y0).attr("rx", r).attr("ry", r)
    .attr("fill", "none").attr("stroke", c).attr("stroke-width", 13);

function arrow(x1, y1, x2, y2) {
  const a = Math.atan2(y2 - y1, x2 - x1), ux = Math.cos(a), uy = Math.sin(a), px = -uy, py = ux;
  const L = 21, w = 8, n = 14;
  const bx = x2 - ux * L, by = y2 - uy * L, nx = x2 - ux * n, ny = y2 - uy * n;
  svg.append("line").attr("x1", x1).attr("y1", y1).attr("x2", nx).attr("y2", ny).attr("stroke", "#222").attr("stroke-width", 2.6);
  svg.append("path").attr("d", `M${x2},${y2}L${bx + px * w},${by + py * w}L${nx},${ny}L${bx - px * w},${by - py * w}Z`).attr("fill", "#222");
}
arrow(374, 549, 805, 648); arrow(858, 580, 858, 607); arrow(1342, 548, 914, 648);
arrow(374, 1157, 805, 1257); arrow(858, 1178, 858, 1228); arrow(1342, 1155, 914, 1257);

// titles
const tt = {size: 27, weight: 400, fill: "#333"};
label(320, 50, "IMF", tt); label(858, 50, "Isochrones", tt); label(1393, 50, "Stellar spectra", tt);
label(320, 663, "SF and chemical evolution", tt); label(857, 663, "SSPs", tt); label(1395, 663, "Dust", tt);
label(858, 1281, "CSP", tt);

// axis labels
const SUN = ["⊙", {sub: true, family: "DejaVu Sans"}];
label(61, 276, "dN/dM", {rot: true});
label(320, 548, [["M", {italic: true}], " (M", SUN, ")"]);
label(626, 277, ["log ", ["L", {italic: true}], ["bol", {sub: true}], " (", ["L", {italic: true}], SUN, ")"], {rot: true});
label(857, 549, ["log ", ["T", {italic: true}], ["eff", {sub: true}], " (K)"]);
label(1146, 277, ["log f", ["ν", {sub: true}], " + C"], {rot: true});
label(1393, 551, "λ (μm)");
label(63, 773, "SFR", {rot: true});
label(64, 1011, ["log ", ["Z/Z", {italic: true}], SUN], {rot: true});
label(320, 1166, [["t", {italic: true}], " (Gyr)"]);
label(602, 893, ["log ", ["f", {italic: true}], ["ν", {sub: true}]], {rot: true});
label(857, 1162, "λ (μm)");
label(1141, 777, ["τ/τ", ["v", {sub: true}]], {rot: true});
label(1140, 1010, ["log ν", ["f", {italic: true}], ["ν", {sub: true}]], {rot: true});
label(1393, 1162, "λ (μm)");
label(234, 1536, ["log ν", ["f", {italic: true}], ["ν", {sub: true}]], {rot: true});
label(856, 1846, "λ (μm)");

// IMF legend
const legCols = [C.red, C.black, C.blue];
imfLegend.forEach((name, i) => {
  const yy = [105, 140.5, 175.5][i];
  svg.append("line").attr("x1", 307).attr("x2", 336).attr("y1", yy).attr("y2", yy).attr("stroke", legCols[i]).attr("stroke-width", 3);
  label(345, yy + 7.5, name, {size: 22, weight: 400, fill: "#8a8a8a", anchor: "start"});
});

// two-line age annotations: "10^n" above "years"
const an = {size: 19.5, weight: 700, fill: "#222"};
function age(x, y, exp, fill) {
  label(x, y, ["10", [exp, {sup: true}]], {...an, fill});
  label(x, y + 27, "years", {...an, fill});
}
age(725, 186, "6", "#222");
age(993, 331, "10", "#222");
age(726, 740, "6", C.purple);
age(952, 907, "10", C.red);
const sl = {size: 21, weight: 600};
label(1280, 167, specNames[0], {...sl, fill: C.purple});
label(1288, 278, specNames[1], {...sl, fill: C.blue});
label(1479, 219, specNames[2], {...sl, fill: C.green});
label(1469, 119, specNames[3], {...sl, fill: C.red});
label(1479, 729, "Attenuation", {size: 24, weight: 400, fill: "#333"});
label(1498, 1073, "Emission", {size: 24, weight: 400, fill: "#333"});
label(1262, 1545, "Dusty", {size: 22, weight: 600, fill: C.red});
label(973, 1678, "Dust-free", {size: 22, weight: 600, fill: C.blue, anchor: "start"});
</script></body></html>
